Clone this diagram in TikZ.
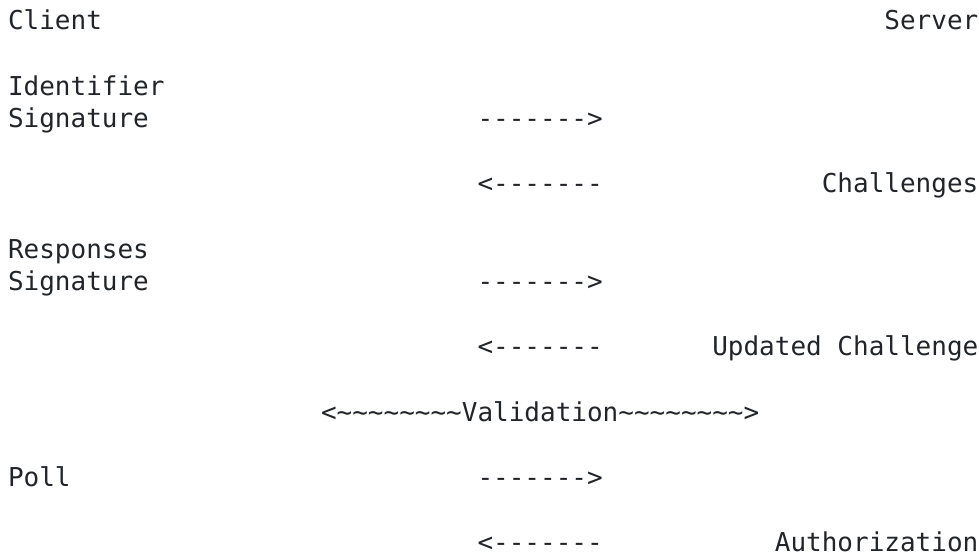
\documentclass[tikz,border=0pt]{standalone}
\usepackage{fontspec}
\setmonofont{DejaVu Sans Mono}
\definecolor{ink}{HTML}{212529}
\newcommand\tld{\textasciitilde}
\newcommand\tlds{\tld\tld\tld\tld\tld\tld\tld\tld}
\begin{document}
\begin{tikzpicture}[x=1bp,y=1bp,
  txt/.style={anchor=base west, inner sep=0pt, outer sep=0pt, text=ink,
    font=\ttfamily\fontsize{26bp}{32.6bp}\selectfont}]
  \useasboundingbox (0,0) rectangle (979,556);
  % column c, row r of the fixed-width layout
  \def\cw{15.65}
  \def\rh{32.6}
  \def\px#1{8+#1*\cw}
  \def\py#1{526-#1*\rh}
  \node[txt] (client)  at ({\px{0}},{\py{0}})  {Client};
  \node[txt] (server)  at ({\px{56}},{\py{0}}) {Server};
  \node[txt] (ident)   at ({\px{0}},{\py{2}})  {Identifier};
  \node[txt] (sig1)    at ({\px{0}},{\py{3}})  {Signature};
  \node[txt] (req1)    at ({\px{30}},{\py{3}}) {------->};
  \node[txt] (resp1)   at ({\px{30}},{\py{5}}) {<-------};
  \node[txt] (chal)    at ({\px{52}},{\py{5}}) {Challenges};
  \node[txt] (answers) at ({\px{0}},{\py{7}})  {Responses};
  \node[txt] (sig2)    at ({\px{0}},{\py{8}})  {Signature};
  \node[txt] (req2)    at ({\px{30}},{\py{8}}) {------->};
  \node[txt] (resp2)   at ({\px{30}},{\py{10}}) {<-------};
  \node[txt] (upd)     at ({\px{45}},{\py{10}}) {Updated Challenge};
  \node[txt] (valid)   at ({\px{20}},{\py{12}}) {<\tlds Validation\tlds>};
  \node[txt] (poll)    at ({\px{0}},{\py{14}})  {Poll};
  \node[txt] (req3)    at ({\px{30}},{\py{14}}) {------->};
  \node[txt] (resp3)   at ({\px{30}},{\py{16}}) {<-------};
  \node[txt] (authz)   at ({\px{49}},{\py{16}}) {Authorization};
\end{tikzpicture}
\end{document}
